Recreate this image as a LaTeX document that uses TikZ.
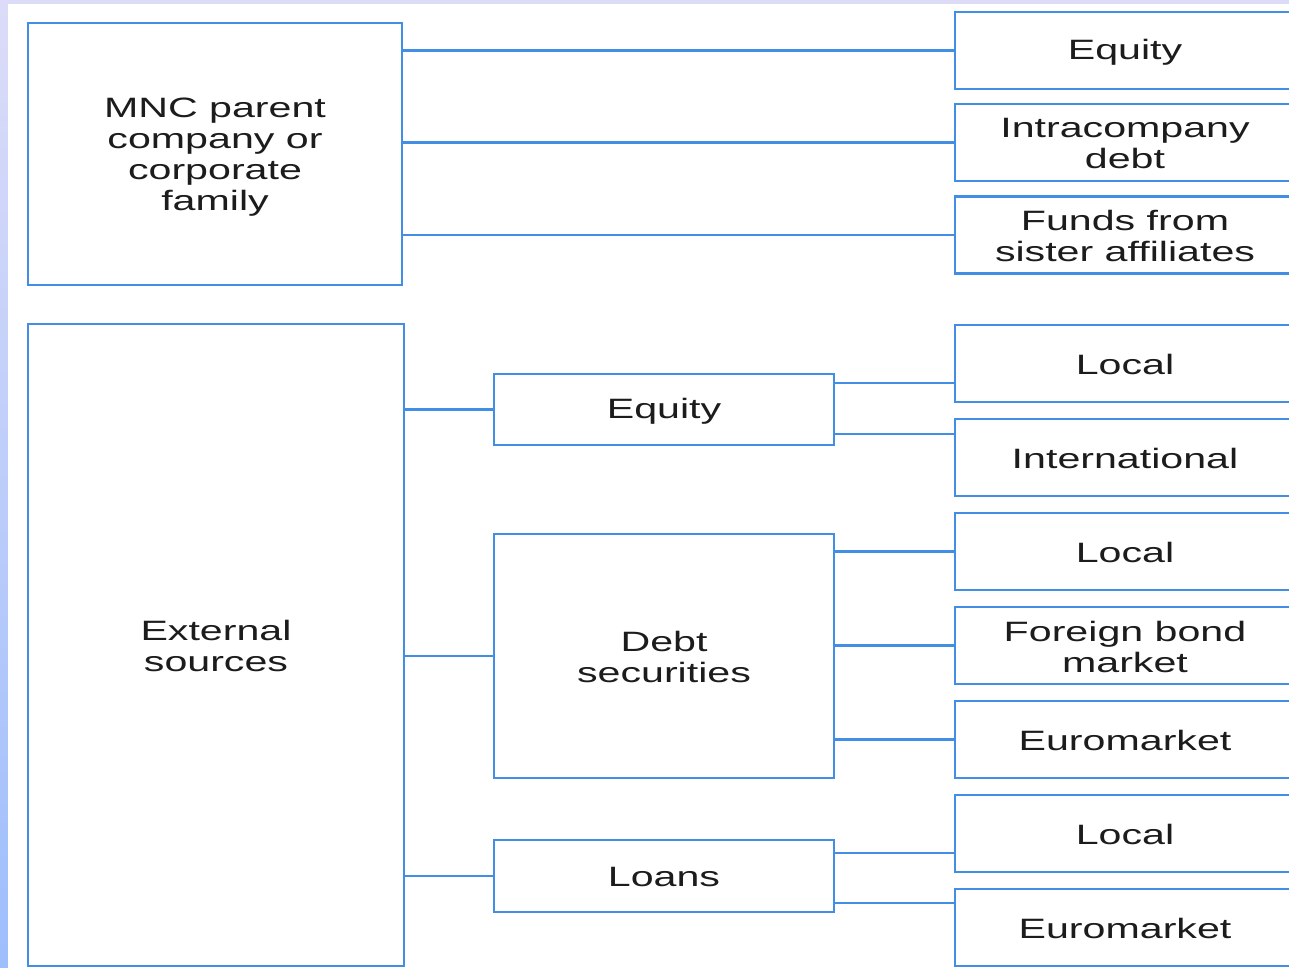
\documentclass[tikz,border=0pt]{standalone}
\usepackage{fontspec}
\setmainfont[FakeStretch=1.47]{Liberation Sans}
\definecolor{lineblue}{RGB}{66,142,228}
\definecolor{textdark}{RGB}{28,28,28}
\definecolor{lavtop}{RGB}{220,220,248}
\definecolor{lavbot}{RGB}{158,190,252}
\tikzset{
  box/.style={draw=lineblue, line width=2.2pt, fill=white, inner sep=0pt},
  txt/.style={inner sep=0pt, align=center, font=\fontsize{28}{31}\selectfont, text=textdark},
  conn/.style={draw=lineblue, line width=2.2pt}
}
\begin{document}
\begin{tikzpicture}[x=1pt,y=-1pt]
\useasboundingbox (0,0) rectangle (1289,967);
\clip (0,0) rectangle (1289,967);
% background
\fill[lavtop] (0,0) rectangle (1289,4);
\shade[top color=lavtop, bottom color=lavbot] (0,0) rectangle (8,967);
\fill[white] (8,4) rectangle (1289,967);
% left column
\node[box, minimum width=374pt, minimum height=262pt] (mnc) at (215,154) {};
\node[box, minimum width=376pt, minimum height=642pt] (ext) at (216,645) {};
% middle column
\node[box, minimum width=340pt, minimum height=71pt] (eqm) at (664,409.5) {};
\node[box, minimum width=340pt, minimum height=244pt] (debt) at (664,656) {};
\node[box, minimum width=340pt, minimum height=72pt] (loans) at (664,876) {};
% right column
\node[box, minimum width=340pt, minimum height=77pt] (eqr) at (1125,50.5) {};
\node[box, minimum width=340pt, minimum height=77pt] (intra) at (1125,142.5) {};
\node[box, minimum width=340pt, minimum height=77pt] (funds) at (1125,235) {};
\node[box, minimum width=340pt, minimum height=77pt] (loc1) at (1125,363.5) {};
\node[box, minimum width=340pt, minimum height=77pt] (intl) at (1125,457.5) {};
\node[box, minimum width=340pt, minimum height=77pt] (loc2) at (1125,551.5) {};
\node[box, minimum width=340pt, minimum height=77pt] (fbm) at (1125,645.5) {};
\node[box, minimum width=340pt, minimum height=77pt] (euro1) at (1125,739.5) {};
\node[box, minimum width=340pt, minimum height=77pt] (loc3) at (1125,833.5) {};
\node[box, minimum width=340pt, minimum height=77pt] (euro2) at (1125,927.5) {};
% texts
\node[txt] (tmnc) at ([yshift=-3pt]mnc.center) {MNC parent\\company or\\corporate\\family};
\node[txt] (text) at ([yshift=-1pt]ext.center) {External\\sources};
\node[txt] (teqm) at ([yshift=-2pt]eqm.center) {Equity};
\node[txt] (tdebt) at ([yshift=-1pt]debt.center) {Debt\\securities};
\node[txt] (tloans) at ([yshift=-1pt]loans.center) {Loans};
\node[txt] (teqr) at ([yshift=-2pt]eqr.center) {Equity};
\node[txt] (tintra) at ([yshift=-1pt]intra.center) {Intracompany\\debt};
\node[txt] (tfunds) at ([yshift=-1pt]funds.center) {Funds from\\sister affiliates};
\node[txt] (tloc1) at ([yshift=-1pt]loc1.center) {Local};
\node[txt] (tintl) at ([yshift=-1pt]intl.center) {International};
\node[txt] (tloc2) at ([yshift=-1pt]loc2.center) {Local};
\node[txt] (tfbm) at ([yshift=-1pt]fbm.center) {Foreign bond\\market};
\node[txt] (teuro1) at ([yshift=-1pt]euro1.center) {Euromarket};
\node[txt] (tloc3) at ([yshift=-1pt]loc3.center) {Local};
\node[txt] (teuro2) at ([yshift=-1pt]euro2.center) {Euromarket};
% connector levels
\coordinate (y1) at (0,383);
\coordinate (y2) at (0,434);
\coordinate (y3) at (0,853);
\coordinate (y4) at (0,903);
% connectors
\draw[conn] (mnc.east |- eqr.west) -- (eqr.west);
\draw[conn] (mnc.east |- intra.west) -- (intra.west);
\draw[conn] (mnc.east |- funds.west) -- (funds.west);
\draw[conn] (ext.east |- eqm.west) -- (eqm.west);
\draw[conn] (ext.east |- debt.west) -- (debt.west);
\draw[conn] (ext.east |- loans.west) -- (loans.west);
\draw[conn] (eqm.east |- y1) -- (loc1.west |- y1);
\draw[conn] (eqm.east |- y2) -- (intl.west |- y2);
\draw[conn] (debt.east |- loc2.west) -- (loc2.west);
\draw[conn] (debt.east |- fbm.west) -- (fbm.west);
\draw[conn] (debt.east |- euro1.west) -- (euro1.west);
\draw[conn] (loans.east |- y3) -- (loc3.west |- y3);
\draw[conn] (loans.east |- y4) -- (euro2.west |- y4);
\end{tikzpicture}
\end{document}
